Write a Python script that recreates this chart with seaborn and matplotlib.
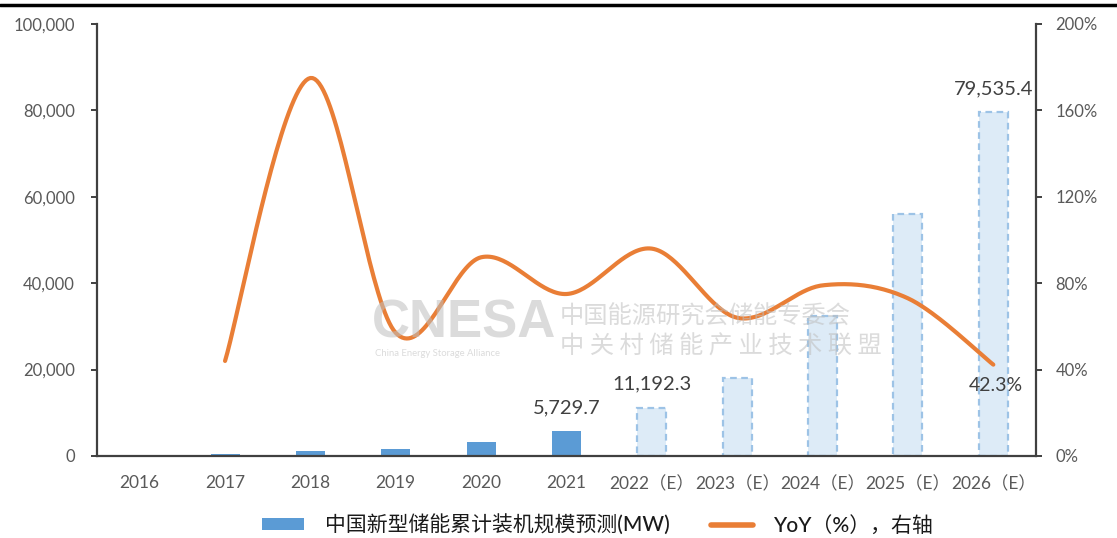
import numpy as np
import pandas as pd
import matplotlib
matplotlib.use("Agg")
import matplotlib.pyplot as plt
from matplotlib.lines import Line2D
from matplotlib.patches import Patch
import seaborn as sns

# ---------------- data ----------------
categories = ["2016", "2017", "2018", "2019", "2020", "2021",
              "2022（E）", "2023（E）", "2024（E）", "2025（E）", "2026（E）"]
capacity_mw = [243, 390, 1073.7, 1709.6, 3269.2, 5729.7,
               11192.3, 18000, 32500, 56000, 79535.4]
is_forecast = [False] * 6 + [True] * 5
yoy_years = ["2017", "2018", "2019", "2020", "2021", "2022（E）",
             "2023（E）", "2024（E）", "2025（E）", "2026（E）"]
yoy_pct = [44, 175, 57, 92, 75, 96, 64, 79, 73, 42.3]
labelled_bars = ["2021", "2022（E）", "2026（E）"]
left_ticks = [0, 20000, 40000, 60000, 80000, 100000]
right_ticks = [0, 40, 80, 120, 160, 200]
bar_legend = "中国新型储能累计装机规模预测(MW)"
line_legend = "YoY（%），右轴"

# ---------------- style ----------------
sns.set_theme(style="white")
plt.rcParams["font.family"] = ["Lato", "Noto Sans CJK SC", "DejaVu Sans"]

ACTUAL = "#5B9BD5"
FC_FILL = "#DDEBF7"
FC_EDGE = "#9DC3E6"
ORANGE = "#E97E36"
TICK = "#595959"
SPINE = "#404040"

fig = plt.figure(figsize=(11.17, 5.38), dpi=100)
ax = fig.add_axes([97 / 1117, 1 - 456 / 538, (1036 - 97) / 1117, (456 - 24) / 538])

df = pd.DataFrame({"cat": categories, "val": capacity_mw})
colors = [FC_FILL if f else ACTUAL for f in is_forecast]
sns.barplot(data=df, x="cat", y="val", hue="cat", order=categories,
            palette=colors, legend=False, width=0.34, saturation=1, ax=ax, zorder=2)
for patch, f in zip(ax.patches, is_forecast):
    if f:
        patch.set_edgecolor(FC_EDGE)
        patch.set_linestyle((0, (3, 2)))
        patch.set_linewidth(1.6)
    else:
        patch.set_edgecolor("none")

ax.set_xlim(-0.5, len(categories) - 0.5)
ax.set_ylim(0, 100000)
ax.set_yticks(left_ticks)
ax.set_yticklabels([f"{v:,}" for v in left_ticks])
ax.set_xlabel("")
ax.set_ylabel("")
ax.set_xticks(np.arange(len(categories)))
ax.set_xticklabels(categories)
ax.set_xticks(np.arange(len(categories) + 1) - 0.5, minor=True)
ax.tick_params(axis="x", which="major", length=0, pad=14, labelsize=12.5, labelcolor=TICK)
ax.tick_params(axis="x", which="minor", length=4, width=1.4, color=SPINE, direction="out")
ax.tick_params(axis="y", length=4, width=1.4, color=SPINE, direction="out", pad=12,
               labelsize=12, labelcolor=TICK, left=True)
for s in ["left", "bottom"]:
    ax.spines[s].set_color(SPINE)
    ax.spines[s].set_linewidth(1.6)
ax.spines["top"].set_visible(False)
ax.spines["right"].set_visible(False)

# data labels for bars
for cat in labelled_bars:
    i = categories.index(cat)
    v = capacity_mw[i]
    ax.annotate(f"{v:,.1f}", (i, v), xytext=(0, 11), textcoords="offset points",
                ha="center", va="bottom", fontsize=14.5, color="#404040")

# ---------------- line on right axis ----------------
ax2 = ax.twinx()
xs = np.array([categories.index(c) for c in yoy_years], dtype=float)
ys = np.array(yoy_pct, dtype=float)
# Excel-style smoothed line: cubic Bezier through points (Catmull-Rom control points)
P = np.column_stack([xs, ys])
Pext = np.vstack([P[0], P, P[-1]])
sx, sy = [], []
t = np.linspace(0, 1, 40)
for k in range(len(P) - 1):
    p0, p1, p2, p3 = Pext[k], Pext[k + 1], Pext[k + 2], Pext[k + 3]
    c1 = p1 + (p2 - p0) / 6
    c2 = p2 - (p3 - p1) / 6
    b = ((1 - t) ** 3)[:, None] * p1 + (3 * (1 - t) ** 2 * t)[:, None] * c1 \
        + (3 * (1 - t) * t ** 2)[:, None] * c2 + (t ** 3)[:, None] * p2
    sx.extend(b[:, 0])
    sy.extend(b[:, 1])
sns.lineplot(x=sx, y=sy, sort=False, color=ORANGE, linewidth=3.0, ax=ax2,
             estimator=None, zorder=5)
ax2.set_ylim(0, 200)
ax2.set_yticks(right_ticks)
ax2.set_yticklabels([f"{v}%" for v in right_ticks])
ax2.tick_params(axis="y", length=4, width=1.4, color=SPINE, direction="out", pad=10,
                labelsize=12, labelcolor=TICK, right=True)
for s in ["left", "top", "bottom"]:
    ax2.spines[s].set_visible(False)
ax2.spines["right"].set_color(SPINE)
ax2.spines["right"].set_linewidth(1.6)
ax2.set_ylabel("")
ax2.annotate(f"{yoy_pct[-1]}%", (xs[-1], ys[-1]), xytext=(2, -9), textcoords="offset points",
             ha="center", va="top", fontsize=14, color="#404040")

# ---------------- watermark ----------------
wm = dict(color="#BEBEBE", alpha=0.55, zorder=6, transform=fig.transFigure)
fig.text(372 / 1117, 1 - 323 / 538, "CNESA", fontsize=38, fontweight="bold",
         va="center", ha="left", family="Liberation Sans", **wm)
fig.text(375 / 1117, 1 - 353 / 538, "China Energy Storage Alliance", fontsize=6.8,
         va="center", ha="left", **wm)
fig.text(560 / 1117, 1 - 317 / 538, "中国能源研究会储能专委会", fontsize=17.5,
         va="center", ha="left", family="Noto Sans CJK SC", **wm)
fig.text(560 / 1117, 1 - 347 / 538, "中 关 村 储 能 产 业 技 术 联 盟", fontsize=17.5,
         va="center", ha="left", family="Noto Sans CJK SC", **wm)

# ---------------- legend ----------------
handles = [Patch(facecolor=ACTUAL, edgecolor="none"),
           Line2D([0], [0], color=ORANGE, linewidth=4)]
leg = fig.legend(handles, [bar_legend, line_legend], loc="center",
                 bbox_to_anchor=(598 / 1117, 1 - 525 / 538), ncol=2, frameon=False,
                 prop={"size": 15, "weight": "medium"}, handlelength=2.0, handleheight=0.5,
                 columnspacing=2.0, handletextpad=1.0)
for txt in leg.get_texts():
    txt.set_color("#1a1a1a")

# top border line
fig.add_artist(Line2D([0, 1], [1 - 5 / 538, 1 - 5 / 538], color="black", linewidth=2.5,
                      transform=fig.transFigure))

fig.savefig("out.png", dpi=100)
